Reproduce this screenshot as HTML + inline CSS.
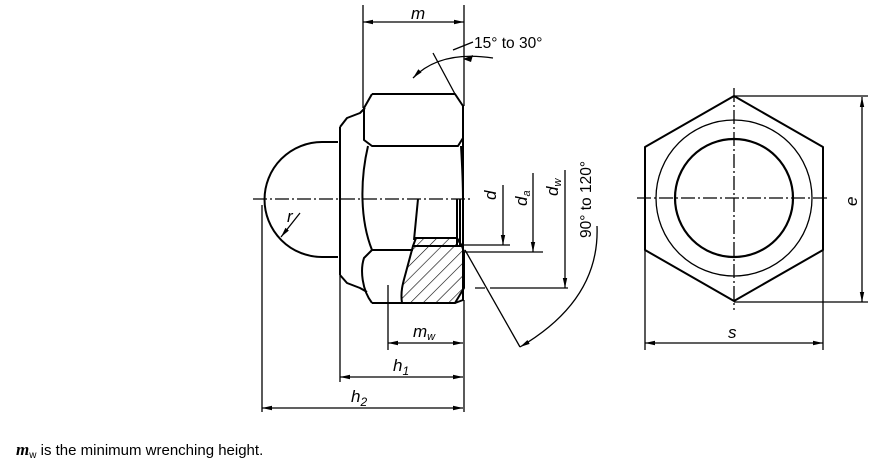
<!DOCTYPE html>
<html><head><meta charset="utf-8"><style>
body{margin:0;background:#fff;width:889px;height:475px;overflow:hidden}
svg{display:block}
text{font-family:"Liberation Sans",sans-serif;fill:#000}
.it{font-style:italic}
</style></head><body>
<svg width="889" height="475" viewBox="0 0 889 475" xmlns="http://www.w3.org/2000/svg">
<defs>
<marker id="a" viewBox="0 0 10 6" refX="10" refY="3" markerWidth="10" markerHeight="6" markerUnits="userSpaceOnUse" orient="auto-start-reverse"><path d="M0,0.8L10,3L0,5.2z" fill="#000"/></marker>
<pattern id="h" patternUnits="userSpaceOnUse" width="9" height="9" patternTransform="rotate(45)"><line x1="0" y1="0" x2="0" y2="9" stroke="#000" stroke-width="1.2"/></pattern>
</defs>
<g fill="none" stroke="#000" stroke-width="2" stroke-linejoin="round">
<path d="M338,142 L322,142 A57.5,57.5 0 0 0 322,257 L338,257"/>
<path d="M340,127 L340,275"/>
<path d="M340,127 L347,118 L360,113 L365,108 M340,275 L347,283 L360,288 L367,292"/>
<path d="M372,94 L455,94 L463,106 L463,300 L455,303 L372,303"/>
<path d="M372,94 L364,108 L364,140 L372,146 L458,146 L463,138"/>
<path d="M368,146 C360,180 360,220 372,250 L413,250"/>
<path d="M372,250 L364,258 C360,270 362,290 372,303"/>
<path d="M461,146 C463,180 463,200 463,200"/>
<path d="M418,199 L414,240 M457,199 L457,245 M460,199 L460,245"/>
<path d="M414,238 L458,238"/>
<path d="M413,246 L462,246 L464,252 L464,288 L455,303 L402,303 C400,290 404,280 406,272 Z" fill="url(#h)"/>
<path d="M416,238 L457,238 L462,246 L413,246 Z" fill="url(#h)"/>
<path d="M734,96 L823,147 L823,250 L734,301 L645,250 L645,147 Z"/>
<circle cx="734" cy="198" r="59" stroke-width="2.2"/>
<circle cx="734" cy="198" r="78" stroke-width="1.3"/>
</g>
<g fill="none" stroke="#000" stroke-width="1.3">
<path d="M253,199 L472,199 M637,198 L829,198 M734,88 L734,310" stroke-dasharray="14,3,2,3"/>
<path d="M363,5 L363,108 M464,5 L464,106"/>
<path d="M363,22 L464,22" marker-start="url(#a)" marker-end="url(#a)"/>
<path d="M455,94 L433,53"/>
<path d="M413,78 Q440,50 493,58" marker-start="url(#a)"/>
<path d="M453,50 L473,42"/>
<path d="M463,245 L510,245 M465,252 L543,252 M475,288 L485,288 M490,288 L568,288"/>
<path d="M503,185 L503,245" marker-end="url(#a)"/>
<path d="M533,173 L533,252" marker-end="url(#a)"/>
<path d="M565,170 L565,288" marker-end="url(#a)"/>
<path d="M465,250 L520,347"/>
<path d="M597,226 Q600,300 520,347" marker-end="url(#a)"/>
<path d="M300,213 L281,237" marker-end="url(#a)"/>
<path d="M388,285 L388,350 M340,275 L340,382 M262,205 L262,412 M464,300 L464,412"/>
<path d="M388,343 L463,343" marker-start="url(#a)" marker-end="url(#a)"/>
<path d="M340,377 L463,377" marker-start="url(#a)" marker-end="url(#a)"/>
<path d="M262,408 L463,408" marker-start="url(#a)" marker-end="url(#a)"/>
<path d="M734,96 L868,96 M734,302 L868,302"/>
<path d="M862,97 L862,302" marker-start="url(#a)" marker-end="url(#a)"/>
<path d="M645,250 L645,350 M823,250 L823,350"/>
<path d="M645,343 L823,343" marker-start="url(#a)" marker-end="url(#a)"/>
</g>
<path d="M463,59 L473,55 L471,62 Z" fill="#000"/>
<g font-size="17">
<text x="411" y="19" class="it">m</text>
<text x="474" y="48" font-size="15.5">15° to 30°</text>
<text x="287" y="222" class="it">r</text>
<text transform="translate(496,200) rotate(-90)" class="it">d</text>
<text transform="translate(527,206) rotate(-90)" class="it">d<tspan font-size="11" dy="3">a</tspan></text>
<text transform="translate(558,196) rotate(-90)" class="it">d<tspan font-size="11" dy="3">w</tspan></text>
<text transform="translate(591,238) rotate(-90)" font-size="15.5">90° to 120°</text>
<text x="413" y="337" class="it">m<tspan font-size="11" dy="3">w</tspan></text>
<text x="393" y="371" class="it">h<tspan font-size="12" dy="4">1</tspan></text>
<text x="351" y="402" class="it">h<tspan font-size="12" dy="4">2</tspan></text>
<text transform="translate(857,206) rotate(-90)" class="it">e</text>
<text x="728" y="338" class="it">s</text>
</g>
<text x="16" y="455" font-size="15"><tspan font-family="Liberation Serif" font-style="italic" font-weight="bold" font-size="17">m</tspan><tspan font-size="10" dy="3">w</tspan><tspan dy="-3"> is the minimum wrenching height.</tspan></text>
</svg>
</body></html>
